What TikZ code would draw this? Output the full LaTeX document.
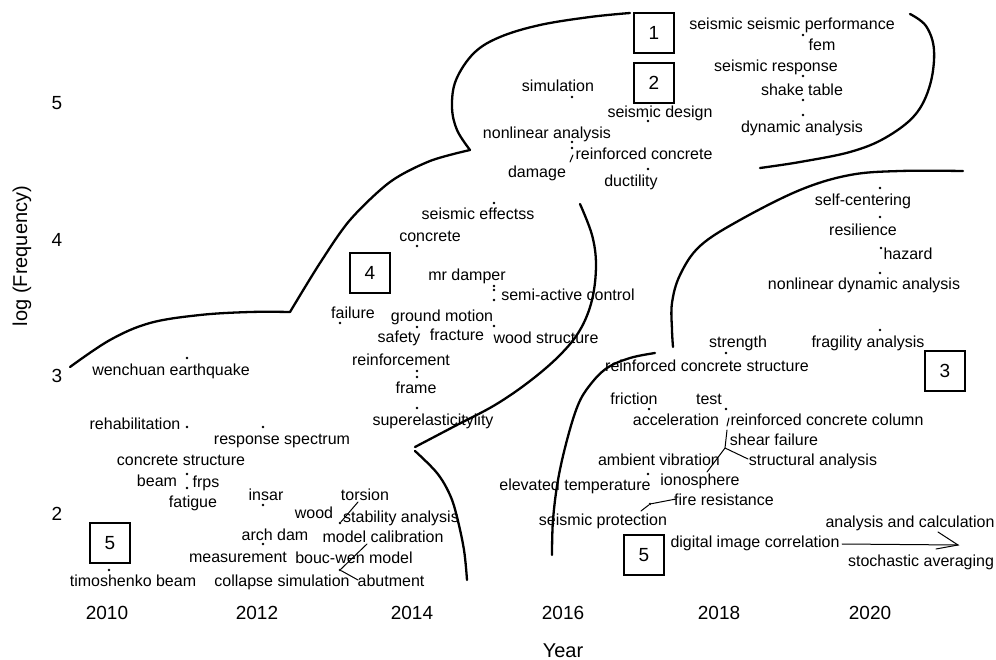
\documentclass[tikz,border=0pt]{standalone}
\usepackage{fontspec}
\setmainfont{Liberation Sans}
\begin{document}
\begin{tikzpicture}[x=1pt,y=-1pt,
  term/.style={inner sep=0pt, font=\fontsize{16}{18}\selectfont, text height=11.5pt, text depth=3.3pt},
  ticklabel/.style={inner sep=0pt, font=\fontsize{19}{22}\selectfont},
  axtitle/.style={inner sep=0pt, font=\fontsize{20}{24}\selectfont},
  clusterbox/.style={draw, line width=1.6pt, minimum size=40pt, inner sep=0pt, font=\fontsize{19}{22}\selectfont},
  boundary/.style={line width=2.3pt, line cap=round, line join=miter},
  link/.style={line width=1pt, line cap=round},
  pt/.style={circle, fill, inner sep=0pt, minimum size=2.6pt}]
\useasboundingbox (0,0) rectangle (996,660);

% ---------- axes ----------
\foreach \v/\y in {5/103,4/240,3/376,2/514}
  \node[ticklabel] (ytick\v) at (57,\y) {\v};
\foreach \yr/\x in {2010/107,2012/257,2014/412,2016/563,2018/719,2020/870}
  \node[ticklabel] (xtick\yr) at (\x,613) {\yr};
\node[axtitle] (xtitle) at (563,651) {Year};
\node[axtitle, rotate=90] (ytitle) at (22,256) {log (Frequency)};

% ---------- cluster boundaries ----------
\draw[boundary] plot[smooth, tension=0.6] coordinates {(70,367) (110,340) (150,323) (200,315) (250,312) (290,312)};
\draw[boundary] plot[smooth, tension=0.5] coordinates {(290,312) (320,263) (350,220) (390,182) (430,161) (470,150)};
\draw[boundary] plot[smooth, tension=0.6] coordinates {(470,150) (457,130) (452,107) (456,80) (474,53) (500,37) (540,25) (590,17) (630,13)};
\draw[boundary] plot[smooth, tension=0.6] coordinates {(910,14) (926,26) (934,50) (930,85) (915,115) (885,138) (850,152) (800,162) (760,168)};
\draw[boundary] plot[smooth, tension=0.6] coordinates {(963,171) (900,171) (850,175) (800,190) (740,220) (700,246) (680,275) (672,303) (672,330) (673,347)};
\draw[boundary] plot[smooth, tension=0.6] coordinates {(580,204) (592,235) (596,265) (592,300) (580,330) (560,355) (530,381) (495,405) (455,426) (415,447)};
\draw[boundary] plot[smooth, tension=0.6] coordinates {(415,451) (437,473) (450,495) (457,517) (464,550) (467,580)};
\draw[boundary] plot[smooth, tension=0.6] coordinates {(655,353) (630,358) (607,368) (590,385) (578,405) (567,440) (558,480) (553,520) (552,555)};

% ---------- cluster numbers ----------
\node[clusterbox] (c1) at (654,33) {1};
\node[clusterbox] (c2) at (654,83) {2};
\node[clusterbox] (c3) at (945,371) {3};
\node[clusterbox] (c4) at (370,273) {4};
\node[clusterbox] (c5a) at (110,543) {5};
\node[clusterbox] (c5b) at (644,555) {5};

% ---------- keyword positions ----------
\foreach \n/\x/\y in {
  a1/803/35, a2/803/76, a3/803/100, a4/803/115, a5/572/97, a6/648/121,
  a7/572/142, a8/572/148, a9/648/169, a10/494/203, a11/417/246,
  a12/494/286, a13/494/290, a14/494/300, a15/340/323, a16/417/327,
  a17/494/326, a18/417/371, a19/417/377, a20/417/408, a21/187/358,
  a22/187/427, a23/263/427, a24/187/474, a25/187/488, a26/263/505,
  a27/109/570, a28/340/523, a29/263/544, a30/340/570, a31/880/188,
  a32/880/217, a33/881/248, a34/880/273, a35/880/330, a36/726/353,
  a37/649/409, a38/726/409, a39/648/474, a40/650/504}
  \node[pt] (\n) at (\x,\y) {};

% ---------- keywords ----------
\foreach \x/\y/\t [count=\i] in {
  792/25/seismic seismic performance, 822/46/fem, 776/67/seismic response,
  802/91/shake table, 802/128/dynamic analysis, 558/87/simulation,
  660/113/seismic design, 547/134/nonlinear analysis, 644/155/reinforced concrete,
  537/173/damage, 631/182/ductility, 478/215/seismic effectss,
  430/237/concrete, 467/276/mr damper, 568/296/semi-active control,
  353/314/failure, 442/317/ground motion, 399/338/safety,
  457/336/fracture, 546/339/wood structure, 401/361/reinforcement,
  416/389/frame, 433/421/superelasticitylity, 171/371/wenchuan earthquake,
  135/425/rehabilitation, 282/440/response spectrum, 181/461/concrete structure,
  157/482/beam, 206/483/frps, 193/503/fatigue,
  266/496/insar, 133/582/timoshenko beam, 365/496/torsion,
  314/514/wood, 401/518/stability analysis, 275/536/arch dam,
  383/538/model calibration, 238/558/measurement, 354/559/bouc-wen model,
  282/582/collapse simulation, 391/582/abutment, 863/201/self-centering,
  863/231/resilience, 908/255/hazard, 864/285/nonlinear dynamic analysis,
  868/343/fragility analysis, 738/343/strength, 707/367/reinforced concrete structure,
  634/400/friction, 709/400/test, 676/421/acceleration,
  827/421/reinforced concrete column, 774/441/shear failure, 813/461/structural analysis,
  659/461/ambient vibration, 700/481/ionosphere, 575/486/elevated temperature,
  724/501/fire resistance, 603/521/seismic protection, 755/543/digital image correlation,
  910/523/analysis and calculation, 921/562/stochastic averaging}
  \node[term] (kw\i) at (\x,\y) {\t};

% ---------- links between keywords ----------
\coordinate (b1) at (573,155);
\coordinate (b2) at (570,162);
\draw[link] (b1) -- (b2);

\coordinate (e1) at (358,502);
\draw[link] (e1) -- (a28);

\coordinate (e2) at (367,544);
\coordinate (e3) at (358,580);
\draw[link] (e2) -- (a30) -- (e3);

\coordinate (f0) at (729,418);
\coordinate (f1) at (727,426);
\coordinate (f2) at (727,430);
\coordinate (f3) at (725,448);
\coordinate (f4) at (707,472);
\coordinate (f5) at (748,459);
\draw[link] (f0) -- (f1);
\draw[link] (f2) -- (f3) -- (f4);
\draw[link] (f3) -- (f5);

\coordinate (g1) at (676,499);
\coordinate (g2) at (641,511);
\draw[link] (g1) -- (a40) -- (g2);

\coordinate (h1) at (842,544);
\coordinate (h2) at (958,545);
\coordinate (h3) at (938,532);
\coordinate (h4) at (936,549);
\draw[link] (h1) -- (h2);
\draw[link] (h3) -- (h2) -- (h4);
\end{tikzpicture}
\end{document}
